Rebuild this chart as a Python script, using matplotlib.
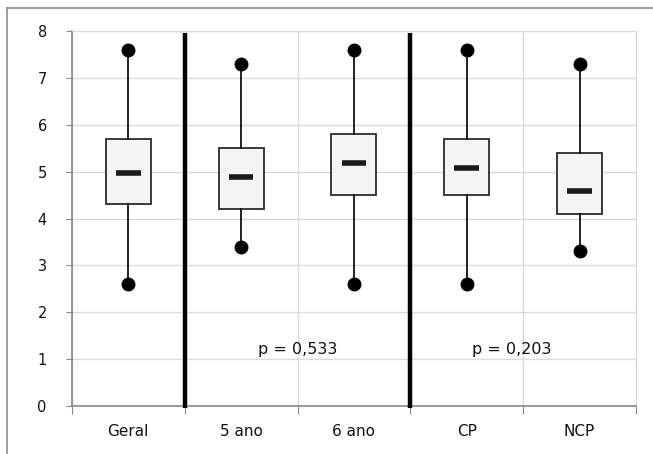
import matplotlib
matplotlib.use("Agg")
import matplotlib.pyplot as plt
from matplotlib.lines import Line2D

categories = ["Geral", "5 ano", "6 ano", "CP", "NCP"]
low = [2.6, 3.4, 2.6, 2.6, 3.3]
q1 = [4.3, 4.2, 4.5, 4.5, 4.1]
median = [4.97, 4.88, 5.18, 5.08, 4.58]
q3 = [5.7, 5.5, 5.8, 5.7, 5.4]
high = [7.6, 7.3, 7.6, 7.6, 7.3]

separators = [0.5, 2.5]
p_labels = ["p = 0,533", "p = 0,203"]
p_x = [1.5, 3.4]
p_y = [1.2, 1.2]

plt.rcParams["font.family"] = "DejaVu Sans"

fig = plt.figure(figsize=(6.53, 4.54), dpi=100)
ax = fig.add_axes([0.110, 0.1057, 0.864, 0.826])

pos = list(range(len(categories)))
stats = [
    {"whislo": lo, "q1": a, "med": m, "q3": b, "whishi": hi, "fliers": []}
    for lo, a, m, b, hi in zip(low, q1, median, q3, high)
]
ax.bxp(stats, positions=pos, widths=0.4, patch_artist=True, showcaps=False,
       boxprops=dict(facecolor="#f4f4f4", edgecolor="#2b2b2b", linewidth=1.3),
       whiskerprops=dict(color="#111111", linewidth=1.3),
       medianprops=dict(linestyle="none"), zorder=3)

# whisker end dots and short thick medians
ax.plot(pos, high, "o", color="black", markersize=9, zorder=4)
ax.plot(pos, low, "o", color="black", markersize=9, zorder=4)
ax.hlines(median, [p - 0.11 for p in pos], [p + 0.11 for p in pos],
          color="#1a1a1a", linewidth=4, zorder=4)

for s in separators:
    ax.plot([s, s], [-0.05, 7.95], color="black", linewidth=3.2, zorder=5,
            solid_capstyle="butt", clip_on=False)

for txt, x, y in zip(p_labels, p_x, p_y):
    ax.text(x, y, txt, ha="center", va="center", fontsize=11.5, color="#111111")

ax.set_xlim(-0.5, len(categories) - 0.5)
ax.set_ylim(0, 8)
ax.set_yticks(range(0, 9))
ax.set_xticks([i - 0.5 for i in range(len(categories) + 1)])
ax.set_xticklabels([])
ax.set_xticks(pos, minor=True)
ax.set_xticklabels(categories, minor=True)
ax.tick_params(axis="x", which="major", length=6, color="#888888", direction="out")
ax.tick_params(axis="x", which="minor", length=0, pad=13, labelsize=11, labelcolor="#111111")
ax.tick_params(axis="y", length=4, color="#888888", pad=14, labelsize=10.5, labelcolor="#111111")

ax.grid(True, which="major", color="#dadada", linewidth=1)
ax.set_axisbelow(True)
for side in ["top", "right"]:
    ax.spines[side].set_color("#dadada")
for side in ["left", "bottom"]:
    ax.spines[side].set_color("#888888")
    ax.spines[side].set_linewidth(1.2)

# outer chart frame (left and top edges visible)
fig.add_artist(Line2D([7 / 653, 7 / 653], [0, 1 - 8 / 454], transform=fig.transFigure,
                      color="#8c8c8c", linewidth=1.2))
fig.add_artist(Line2D([7 / 653, 1], [1 - 8 / 454, 1 - 8 / 454], transform=fig.transFigure,
                      color="#8c8c8c", linewidth=1.2))

fig.savefig("out.png", dpi=100)
